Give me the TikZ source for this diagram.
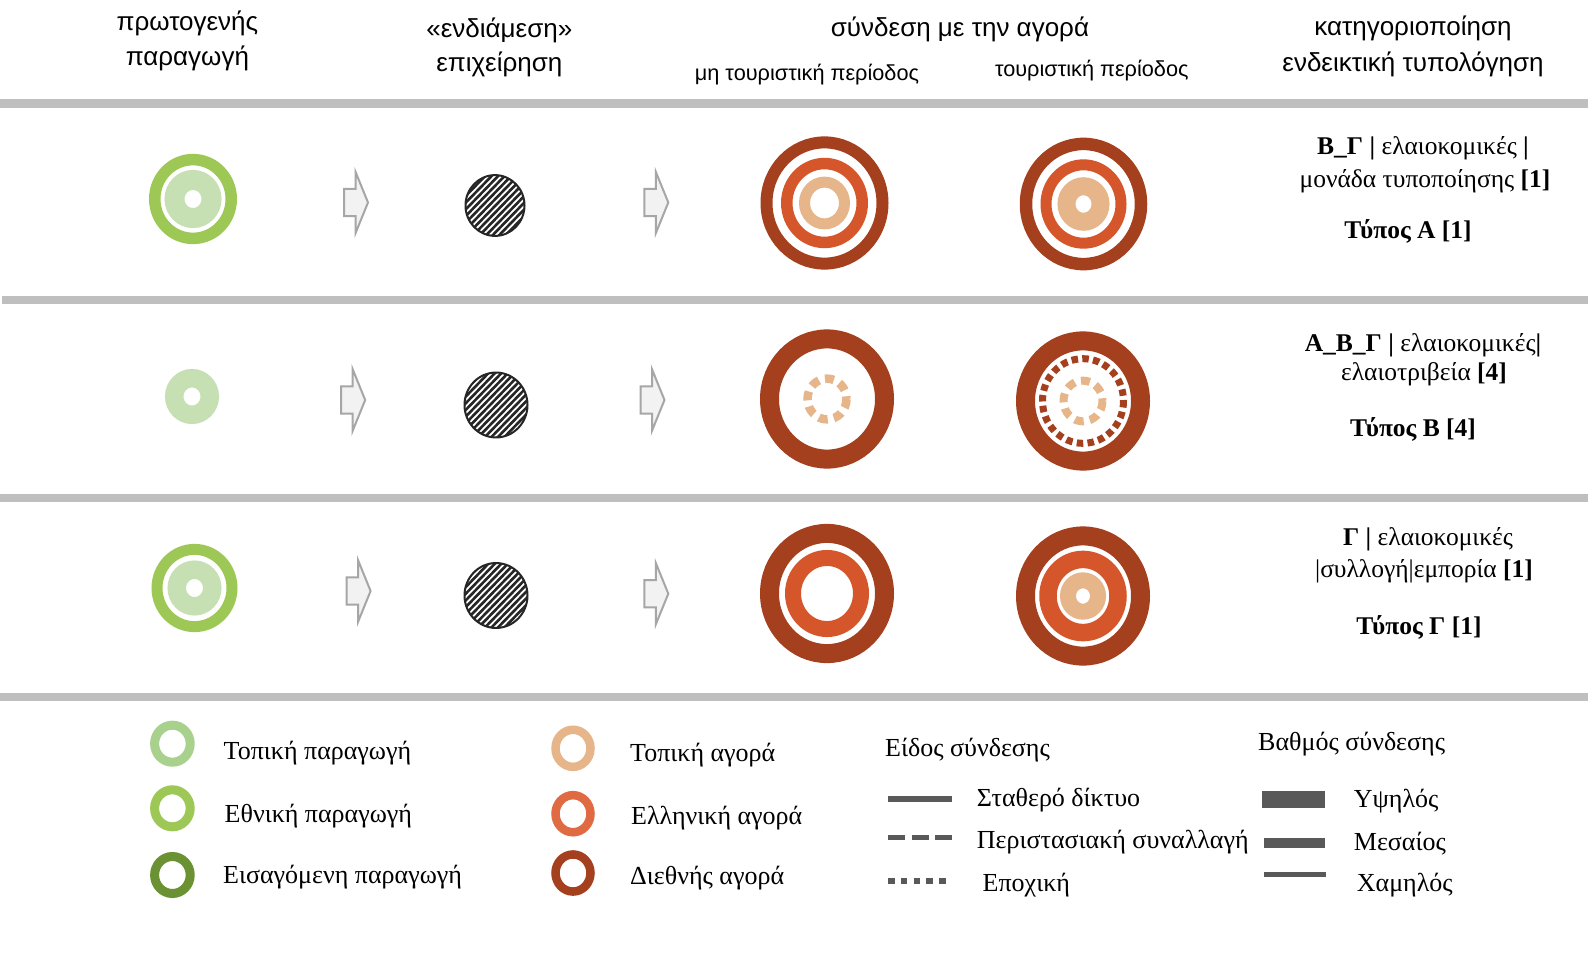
\documentclass[tikz,border=0pt]{standalone}
\usepackage{fontspec}
\setmainfont{Liberation Serif}
\newfontfamily\hdrfont{Liberation Sans}
\definecolor{barg}{HTML}{BFBFBF}
\definecolor{dbrown}{HTML}{A5401F}
\definecolor{orng}{HTML}{D5562B}
\definecolor{tanc}{HTML}{E6B68A}
\definecolor{grn}{HTML}{9DC855}
\definecolor{lgrn}{HTML}{C6E0B4}
\definecolor{leglgrn}{HTML}{A9D18E}
\definecolor{legdgrn}{HTML}{6A9232}
\definecolor{legorng}{HTML}{E06B42}
\definecolor{hatchc}{HTML}{262626}
\definecolor{arrfill}{HTML}{F2F2F2}
\definecolor{arrline}{HTML}{A6A6A6}
\definecolor{keyc}{HTML}{595959}
\newcommand\hatchdisc[2]{%
  \begin{scope}[shift={(#1)}, yscale=1.03]
    \clip (0,0) circle[radius=#2];
    \foreach \k in {-84,-77.5,...,84} \draw[hatchc, line width=2.6] (\k-45,45) -- (\k+45,-45);
  \end{scope}
  \begin{scope}[shift={(#1)}, yscale=1.03]
    \draw[hatchc, line width=2] (0,0) circle[radius=#2];
  \end{scope}}
\newcommand\blkarrow[1]{%
  \begin{scope}[shift={(#1)}]
    \draw[fill=arrfill, draw=arrline, line width=2, line join=miter]
      (0,-13.7) -- (11.5,-13.7) -- (11.5,-30.7) -- (24,0) -- (11.5,30.7) -- (11.5,13.7) -- (0,13.7) -- cycle;
  \end{scope}}
\begin{document}
\begin{tikzpicture}[x=1pt, y=-1pt,
  hdr/.style={font=\hdrfont\fontsize{26}{30}\selectfont, inner sep=0, anchor=base},
  subhdr/.style={font=\hdrfont\fontsize{21.7}{25}\selectfont, inner sep=0, anchor=base},
  rowtxt/.style={font=\fontsize{25.5}{29}\selectfont, inner sep=0, anchor=base},
  legtxt/.style={font=\fontsize{26}{30}\selectfont, inner sep=0, anchor=base west},
  keyline/.style={draw=keyc, line width=5.5},
  rg/.style={line width=#1}]
\useasboundingbox (0,0) rectangle (1588,966);
\fill[white] (0,0) rectangle (1588,966);
% bars
\fill[barg] (0,99) rectangle (1588,108);
\fill[barg] (2,296) rectangle (1588,304);
\fill[barg] (0,494) rectangle (1588,502);
\fill[barg] (0,693) rectangle (1588,701);
% headers
\node[hdr] (h1a) at (187.4,30.4) {πρωτογενής};
\node[hdr] (h1b) at (187.4,65.5) {παραγωγή};
\node[hdr] (h2a) at (499.3,37.5) {«ενδιάμεση»};
\node[hdr] (h2b) at (499.3,72) {επιχείρηση};
\node[hdr] (h3) at (960,36.5) {σύνδεση με την αγορά};
\node[subhdr] (h3a) at (807,81) {μη τουριστική περίοδος};
\node[subhdr] (h3b) at (1091.8,77) {τουριστική περίοδος};
\node[hdr] (h4a) at (1413,35.5) {κατηγοριοποίηση};
\node[hdr] (h4b) at (1413,71) {ενδεικτική τυπολόγηση};
% coordinates
\coordinate (g1) at (193,199);
\coordinate (g2) at (192,396.5);
\coordinate (g3) at (194.5,588);
\coordinate (hd1) at (495,205.5);
\coordinate (hd2) at (496,405);
\coordinate (hd3) at (496,595.5);
\coordinate (m1a) at (824.5,203);
\coordinate (m1b) at (1083.5,204);
\coordinate (m2a) at (827,399);
\coordinate (m2b) at (1083,401);
\coordinate (m3a) at (827,593.5);
\coordinate (m3b) at (1083,596);
\coordinate (a1a) at (344,202.5);
\coordinate (a1b) at (644.3,202.5);
\coordinate (a2a) at (341.2,400);
\coordinate (a2b) at (640.5,400);
\coordinate (a3a) at (346.6,591);
\coordinate (a3b) at (644.3,593.7);
% green production symbols
\begin{scope}[shift={(g1)}, yscale=1.03]
  \draw[grn, rg=11.5] (0,0) circle[radius=38.25];
  \draw[lgrn, rg=20] (0,0) circle[radius=18.5];
\end{scope}
\begin{scope}[shift={(g2)}, yscale=1.03]
  \draw[lgrn, rg=18.5] (0,0) circle[radius=17.75];
\end{scope}
\begin{scope}[shift={(g3)}, yscale=1.03]
  \draw[grn, rg=11] (0,0) circle[radius=37.5];
  \draw[lgrn, rg=18.5] (0,0) circle[radius=17.75];
\end{scope}
% arrows
\blkarrow{a1a}\blkarrow{a1b}
\blkarrow{a2a}\blkarrow{a2b}
\blkarrow{a3a}\blkarrow{a3b}
% hatched discs
\hatchdisc{hd1}{29.5}
\hatchdisc{hd2}{31.5}
\hatchdisc{hd3}{31.5}
% market symbols
\begin{scope}[shift={(m1a)}, yscale=1.045]
  \draw[dbrown, rg=12] (0,0) circle[radius=58];
  \draw[orng, rg=11.5] (0,0) circle[radius=37.75];
  \draw[tanc, rg=11] (0,0) circle[radius=20];
\end{scope}
\begin{scope}[shift={(m1b)}, yscale=1.045]
  \draw[dbrown, rg=12.5] (0,0) circle[radius=57.5];
  \draw[orng, rg=11] (0,0) circle[radius=37.5];
  \draw[tanc, rg=18] (0,0) circle[radius=17];
\end{scope}
\begin{scope}[shift={(m2a)}, yscale=1.045]
  \draw[dbrown, rg=19] (0,0) circle[radius=57.5];
  \draw[tanc, rg=8.5, dash pattern=on 9 off 6.3] (0,0) circle[radius=19.5];
\end{scope}
\begin{scope}[shift={(m2b)}, yscale=1.045]
  \draw[dbrown, rg=19] (0,0) circle[radius=57.5];
  \draw[dbrown, rg=7, dash pattern=on 6.5 off 4.3] (0,0) circle[radius=40.5];
  \draw[tanc, rg=8, dash pattern=on 9 off 6.3] (0,0) circle[radius=19.5];
\end{scope}
\begin{scope}[shift={(m3a)}, yscale=1.045]
  \draw[dbrown, rg=19] (0,0) circle[radius=57.5];
  \draw[orng, rg=16] (0,0) circle[radius=34];
\end{scope}
\begin{scope}[shift={(m3b)}, yscale=1.045]
  \draw[dbrown, rg=19] (0,0) circle[radius=57.5];
  \draw[orng, rg=17.5] (0,0) circle[radius=35];
  \draw[tanc, rg=16] (0,0) circle[radius=15];
\end{scope}
% row texts
\node[rowtxt] (r1a) at (1423,154.4) {\textbf{Β\_Γ |} ελαιοκομικές \textbf{|}};
\node[rowtxt] (r1b) at (1425,187) {μονάδα τυποποίησης \textbf{[1]}};
\node[rowtxt] (r1c) at (1408,238) {\textbf{Τύπος Α [1]}};
\node[rowtxt] (r2a) at (1423,351) {\textbf{Α\_Β\_Γ |} ελαιοκομικές\textbf{|}};
\node[rowtxt] (r2b) at (1424,380.5) {ελαιοτριβεία \textbf{[4]}};
\node[rowtxt] (r2c) at (1413,436) {\textbf{Τύπος Β [4]}};
\node[rowtxt] (r3a) at (1428,545) {\textbf{Γ |} ελαιοκομικές};
\node[rowtxt] (r3b) at (1424,577.5) {|συλλογή|εμπορία \textbf{[1]}};
\node[rowtxt] (r3c) at (1419,634) {\textbf{Τύπος Γ [1]}};
% legend: production
\coordinate (lg1) at (172.4,743.7);
\coordinate (lg2) at (172.4,808.3);
\coordinate (lg3) at (172.4,875);
\coordinate (lm1) at (573,748.3);
\coordinate (lm2) at (573,813.7);
\coordinate (lm3) at (573,873);
\begin{scope}[shift={(lg1)}, yscale=1.04]\draw[leglgrn, rg=9] (0,0) circle[radius=17.8];\end{scope}
\begin{scope}[shift={(lg2)}, yscale=1.04]\draw[grn, rg=9] (0,0) circle[radius=17.8];\end{scope}
\begin{scope}[shift={(lg3)}, yscale=1.04]\draw[legdgrn, rg=9] (0,0) circle[radius=17.8];\end{scope}
\begin{scope}[shift={(lm1)}, yscale=1.06]\draw[tanc, rg=8.5] (0,0) circle[radius=17.5];\end{scope}
\begin{scope}[shift={(lm2)}, yscale=1.06]\draw[legorng, rg=8.5] (0,0) circle[radius=17.5];\end{scope}
\begin{scope}[shift={(lm3)}, yscale=1.06]\draw[dbrown, rg=8.5] (0,0) circle[radius=17.5];\end{scope}
\node[legtxt] (lt1) at (223.5,759) {Τοπική παραγωγή};
\node[legtxt] (lt2) at (224.5,822) {Εθνική παραγωγή};
\node[legtxt] (lt3) at (223,883) {Εισαγόμενη παραγωγή};
\node[legtxt] (lt4) at (630,761) {Τοπική αγορά};
\node[legtxt] (lt5) at (631,824) {Ελληνική αγορά};
\node[legtxt] (lt6) at (630,884) {Διεθνής αγορά};
% legend: type of connection
\node[legtxt] (lk0) at (885,756) {Είδος σύνδεσης};
\coordinate (k1s) at (888,799); \coordinate (k1e) at (952,799);
\coordinate (k2s) at (888,837.5); \coordinate (k2e) at (952,837.5);
\coordinate (k3s) at (888,881); \coordinate (k3e) at (950,881);
\draw[keyline] (k1s) -- (k1e);
\draw[keyline, dash pattern=on 17 off 6.5] (k2s) -- (k2e);
\draw[keyline, dash pattern=on 6.5 off 6.3] (k3s) -- (k3e);
\node[legtxt] (lk1) at (976.7,806.5) {Σταθερό δίκτυο};
\node[legtxt] (lk2) at (976.7,848) {Περιστασιακή συναλλαγή};
\node[legtxt] (lk3) at (982.5,891) {Εποχική};
% legend: degree
\node[legtxt] (ld0) at (1258,750.5) {Βαθμός σύνδεσης};
\fill[keyc] (1261.8,790.7) rectangle (1325,808.3);
\fill[keyc] (1263.7,837.5) rectangle (1325,847.5);
\fill[keyc] (1263.7,872) rectangle (1326,877);
\node[legtxt] (ld1) at (1353.7,807.5) {Υψηλός};
\node[legtxt] (ld2) at (1353.7,850) {Μεσαίος};
\node[legtxt] (ld3) at (1356.7,891) {Χαμηλός};
\end{tikzpicture}
\end{document}
